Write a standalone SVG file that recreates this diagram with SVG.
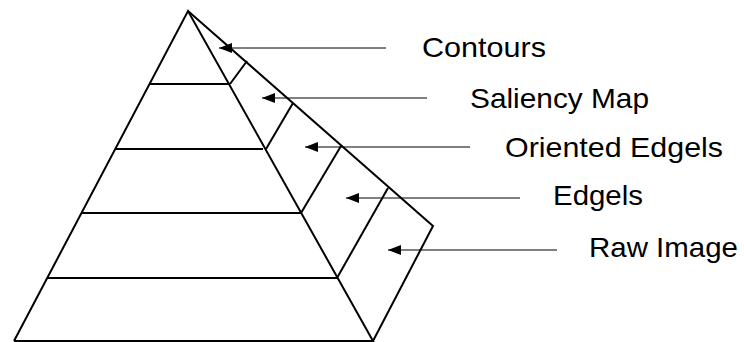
<svg xmlns="http://www.w3.org/2000/svg" width="744" height="342" viewBox="0 0 744 342">
<style>
.edge{fill:none;stroke:#000;stroke-width:2;stroke-linejoin:miter}
.conn{stroke:#000;stroke-width:1;fill:none;marker-end:url(#ah)}
.lbl{font-family:"Liberation Sans",Arial,sans-serif;font-size:28px;fill:#000}
</style>
<defs>
<marker id="ah" markerUnits="userSpaceOnUse" markerWidth="13" markerHeight="10" viewBox="0 0 13 10" refX="13" refY="5" orient="auto">
<path d="M0,0 L13,5 L0,10 z" fill="#000"/>
</marker>
</defs>
<rect width="744" height="342" fill="#fff"/>
<g id="pyramid-front">
<polyline class="edge" points="14,341 188,11 373,341 14,341"/>
<line class="edge" x1="150" y1="84" x2="230" y2="84"/>
<line class="edge" x1="115.5" y1="149" x2="263" y2="149"/>
<line class="edge" x1="81.5" y1="213" x2="301" y2="213"/>
<line class="edge" x1="47.5" y1="278" x2="338" y2="278"/>
</g>
<g id="pyramid-side">
<polyline class="edge" points="188,11 433,226 373,341"/>
<line class="edge" x1="230" y1="84" x2="247" y2="61"/>
<line class="edge" x1="266" y1="149" x2="293" y2="103"/>
<line class="edge" x1="301" y1="213" x2="341" y2="146"/>
<line class="edge" x1="337" y1="278" x2="388" y2="188"/>
</g>
<g id="connectors">
<line class="conn" x1="386" y1="48" x2="219" y2="48"/>
<line class="conn" x1="427" y1="98" x2="262" y2="98"/>
<line class="conn" x1="470" y1="147" x2="305" y2="147"/>
<line class="conn" x1="520" y1="198" x2="346" y2="198"/>
<line class="conn" x1="557" y1="250" x2="388" y2="250"/>
</g>
<g id="label-contours"><text class="lbl" x="422" y="57" textLength="124" lengthAdjust="spacingAndGlyphs">Contours</text></g>
<g id="label-saliency"><text class="lbl" x="470" y="108" textLength="179" lengthAdjust="spacingAndGlyphs">Saliency Map</text></g>
<g id="label-oriented"><text class="lbl" x="505" y="157" textLength="218" lengthAdjust="spacingAndGlyphs">Oriented Edgels</text></g>
<g id="label-edgels"><text class="lbl" x="553" y="205" textLength="90" lengthAdjust="spacingAndGlyphs">Edgels</text></g>
<g id="label-raw"><text class="lbl" x="589" y="257" textLength="149" lengthAdjust="spacingAndGlyphs">Raw Image</text></g>
</svg>
